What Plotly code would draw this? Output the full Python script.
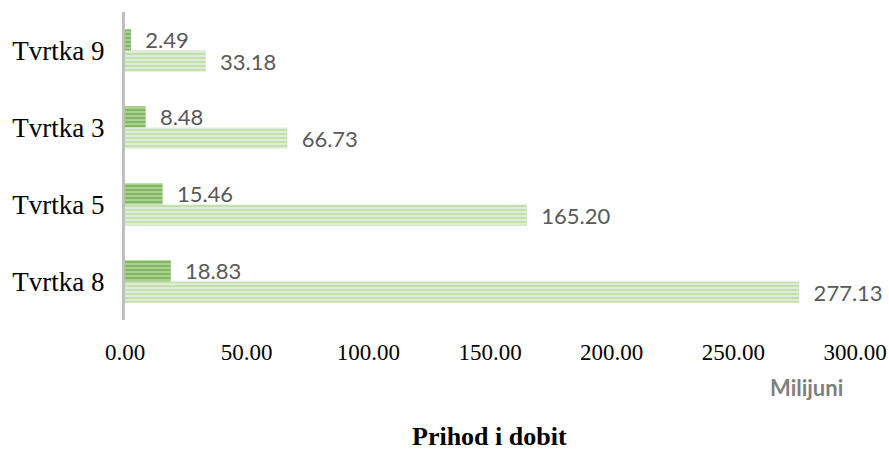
import plotly.graph_objects as go

categories = ["Tvrtka 8", "Tvrtka 5", "Tvrtka 3", "Tvrtka 9"]
prihod = [277.13, 165.20, 66.73, 33.18]
dobit = [18.83, 15.46, 8.48, 2.49]
x_ticks = [0, 50, 100, 150, 200, 250, 300]
x_tick_labels = ["0.00", "50.00", "100.00", "150.00", "200.00", "250.00", "300.00"]

W, H = 889, 450
L, R, T, B = 125, 34, 12, 130
pw, ph = W - L - R, H - T - B

label_font = dict(family="Lato, Noto Sans, sans-serif", size=22, color="#595959")

fig = go.Figure()
fig.add_trace(go.Bar(
    y=categories, x=prihod, orientation="h", name="Prihod",
    marker=dict(color="#DDEDD3", line=dict(width=0),
                pattern=dict(shape="-", fgcolor="#A9D18E", bgcolor="#DDEDD3", size=4, solidity=0.5)),
    text=prihod, texttemplate="  %{x:.2f}", textposition="outside", constraintext="none",
    textfont=label_font, cliponaxis=False,
))
fig.add_trace(go.Bar(
    y=categories, x=dobit, orientation="h", name="Dobit",
    marker=dict(color="#A9D18E", line=dict(width=0),
                pattern=dict(shape="-", fgcolor="#5E9B3C", bgcolor="#A9D18E", size=4, solidity=0.5)),
    text=dobit, texttemplate="  %{x:.2f}", textposition="outside", constraintext="none",
    textfont=label_font, cliponaxis=False,
))

def px_to_paper(x, y):
    return (x - L) / pw, (H - B - y) / ph

mx, my = px_to_paper(806, 387)
tx, ty = px_to_paper(489, 436)

fig.update_layout(
    width=W, height=H,
    barmode="group", bargap=0.45, bargroupgap=0.0,
    margin=dict(l=L, r=R, t=T, b=B, autoexpand=False),
    plot_bgcolor="white", paper_bgcolor="white",
    showlegend=False,
    font=dict(family="Liberation Serif, Times New Roman, serif"),
    xaxis=dict(range=[0, 300], tickvals=x_ticks, ticktext=x_tick_labels,
               showgrid=False, zeroline=False, showline=False, automargin=False,
               tickfont=dict(family="Liberation Serif", size=23, color="#000000"),
               ticks="", ticklabelstandoff=16, fixedrange=True),
    yaxis=dict(showgrid=False, zeroline=False, showline=True, linecolor="#BFBFBF", linewidth=3,
               automargin=False,
               tickfont=dict(family="Liberation Serif", size=27, color="#000000"),
               ticks="", ticklabelstandoff=12),
    annotations=[
        dict(text="<b>Milijuni</b>", x=mx, y=my, xref="paper", yref="paper", showarrow=False,
             font=dict(family="Lato, Noto Sans, sans-serif", size=22, color="#7F7F7F"),
             xanchor="center", yanchor="middle"),
        dict(text="<b>Prihod i dobit</b>", x=tx, y=ty, xref="paper", yref="paper", showarrow=False,
             font=dict(family="Liberation Serif", size=26, color="#000000"),
             xanchor="center", yanchor="middle"),
    ],
)

fig.write_html("out.html", config={"displayModeBar": False},
               post_script="document.body.style.margin='0';document.body.style.overflow='hidden';")
